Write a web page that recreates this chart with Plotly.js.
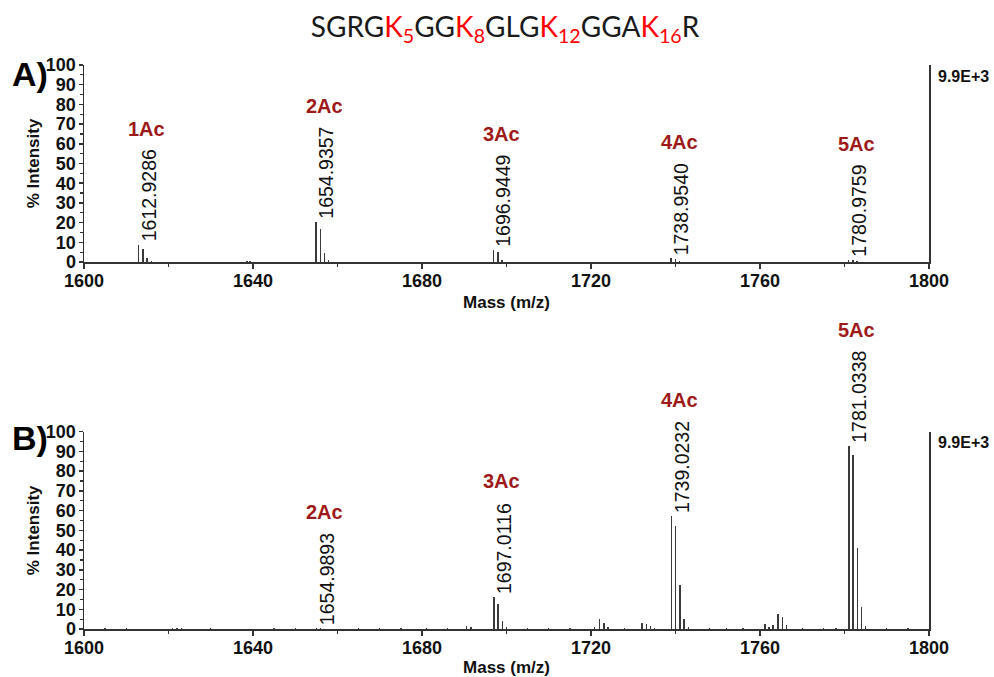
<!DOCTYPE html>
<html>
<head>
<meta charset="utf-8">
<script src="https://cdn.plot.ly/plotly-3.0.1.min.js"></script>
<style>html,body{margin:0;padding:0;background:#fff;}#chart{width:994px;height:677px;}</style>
</head>
<body>
<div id="chart"></div>
<script>
// ---- Panel A data (m/z, % intensity) ----
const A_mz  = [1612.93, 1613.93, 1614.93, 1615.93, 1638.6, 1639.3,
               1654.94, 1655.94, 1656.94, 1657.94,
               1696.94, 1697.95, 1698.95,
               1738.95, 1739.95, 1740.96,
               1780.98, 1781.98, 1782.98];
const A_int = [8.8, 6.6, 1.8, 0.3, 0.5, 0.4,
               20.5, 16.6, 4.7, 0.8,
               6.0, 5.3, 1.0,
               1.9, 1.5, 0.5,
               1.0, 0.8, 0.3];
const A_peak_mz   = [1612.9286, 1654.9357, 1696.9449, 1738.9540, 1780.9759];
const A_peak_int  = [8.8, 20.5, 6.0, 1.9, 1.0];
const A_peak_text = ["1612.9286", "1654.9357", "1696.9449", "1738.9540", "1780.9759"];
const A_ac_text   = ["1Ac", "2Ac", "3Ac", "4Ac", "5Ac"];

// ---- Panel B data ----
const B_mz  = [1605.0, 1610.0, 1621.0, 1622.0, 1623.0, 1630.0, 1645.0, 1650.0,
               1654.99, 1655.99, 1665.0, 1670.0, 1675.0, 1681.0, 1686.0,
               1690.6, 1691.6,
               1697.01, 1698.02, 1699.02, 1700.02,
               1705.0, 1710.0, 1715.0,
               1720.9, 1722.05, 1723.05, 1724.05, 1728.0,
               1732.1, 1733.1, 1734.1, 1735.1,
               1739.02, 1740.03, 1741.03, 1742.03, 1743.03,
               1748.0, 1752.0, 1756.0,
               1761.2, 1762.1, 1763.1, 1764.3, 1765.3, 1766.2,
               1770.0, 1775.0, 1778.0,
               1781.03, 1782.04, 1783.04, 1784.04, 1785.04,
               1790.0, 1795.0];
const B_int = [0.3, 0.3, 0.4, 0.4, 0.3, 0.3, 0.3, 0.3,
               0.6, 0.4, 0.3, 0.3, 0.3, 0.5, 0.3,
               1.3, 1.1,
               16.4, 12.8, 4.0, 1.0,
               0.3, 0.3, 0.3,
               0.8, 4.9, 3.2, 1.0, 0.3,
               3.2, 2.5, 1.5, 0.4,
               57.4, 52.4, 22.3, 5.2, 1.0,
               0.3, 0.3, 0.3,
               2.5, 1.2, 2.0, 7.6, 6.2, 2.0,
               0.3, 0.3, 0.4,
               92.8, 88.0, 41.2, 11.3, 1.5,
               0.3, 0.3];
const B_peak_mz   = [1654.9893, 1697.0116, 1739.0232, 1781.0338];
const B_peak_int  = [0.6, 16.4, 57.4, 92.8];
const B_peak_text = ["1654.9893", "1697.0116", "1739.0232", "1781.0338"];
const B_ac_text   = ["2Ac", "3Ac", "4Ac", "5Ac"];

const scaleLabel = "9.9E+3";
const xTickVals = [1600, 1640, 1680, 1720, 1760, 1800];
const yTickVals = [0, 10, 20, 30, 40, 50, 60, 70, 80, 90, 100];

const FONT = "Liberation Sans, Arial, Helvetica, sans-serif";
const AXC = "#333333";
const ACC = "#9e1a1a";

function barTrace(x, y, xa, ya) {
  return {type: "bar", x: x, y: y, xaxis: xa, yaxis: ya, width: 0.32,
          marker: {color: "#3a3a3a", line: {width: 0}}, hoverinfo: "x+y", showlegend: false};
}

function xAxis(domain, anchor) {
  return {domain: domain, anchor: anchor, range: [1600, 1800], tickvals: xTickVals,
          ticks: "outside", ticklen: 5, tickwidth: 1.5, tickcolor: AXC, ticklabelstandoff: -3,
          minor: {dtick: 20, tick0: 1600, ticks: "outside", ticklen: 3, tickwidth: 1.2, tickcolor: AXC},
          showline: true, linecolor: AXC, linewidth: 1.5, showgrid: false, zeroline: false,
          tickfont: {family: FONT, size: 18, weight: "bold", color: "#111"},
          title: {text: "Mass (m/z)", standoff: 6, font: {family: FONT, size: 17, weight: "bold", color: "#111"}}};
}
function yAxis(domain, anchor) {
  return {domain: domain, anchor: anchor, range: [0, 100], tickvals: yTickVals,
          ticks: "outside", ticklen: 4, tickwidth: 1.5, tickcolor: AXC, ticklabelstandoff: -1,
          minor: {dtick: 5, tick0: 0, ticks: "outside", ticklen: 2.5, tickwidth: 1.2, tickcolor: AXC},
          showline: true, mirror: true, linecolor: AXC, linewidth: 1.5, showgrid: false, zeroline: false,
          tickfont: {family: FONT, size: 18, weight: "bold", color: "#111"},
          title: {text: "% Intensity", standoff: 2, font: {family: FONT, size: 17, weight: "bold", color: "#111"}}};
}

const annotations = [];
function addLabels(mz, inten, texts, acs, xr, yr) {
  for (let i = 0; i < mz.length; i++) {
    annotations.push({x: mz[i], y: inten[i], xref: xr, yref: yr, text: texts[i], textangle: -90,
      showarrow: false, xanchor: "center", yanchor: "bottom", xshift: 10, yshift: 1,
      font: {family: FONT, size: 19.5, color: "#111"}});
    annotations.push({x: mz[i], y: inten[i], xref: xr, yref: yr, text: acs[i],
      showarrow: false, xanchor: "center", yanchor: "bottom", xshift: 8, yshift: 103,
      font: {family: FONT, size: 20, weight: "bold", color: ACC}});
  }
}
addLabels(A_peak_mz, A_peak_int, A_peak_text, A_ac_text, "x", "y");
addLabels(B_peak_mz, B_peak_int, B_peak_text, B_ac_text, "x2", "y2");

// scale labels at right
[["y domain", 1], ["y2 domain", 1]].forEach(function (r) {
  annotations.push({x: 936 / 994, y: r[1], xref: "paper", yref: r[0], text: scaleLabel,
    showarrow: false, xanchor: "left", yanchor: "middle", yshift: -11,
    font: {family: FONT, size: 16, weight: "bold", color: "#111"}});
});
// panel letters
annotations.push({x: 30 / 994, y: 1 - 74 / 677, xref: "paper", yref: "paper", text: "A)", showarrow: false,
  xanchor: "center", yanchor: "middle", font: {family: FONT, size: 34, weight: "bold", color: "#000"}});
annotations.push({x: 30 / 994, y: 1 - 438 / 677, xref: "paper", yref: "paper", text: "B)", showarrow: false,
  xanchor: "center", yanchor: "middle", font: {family: FONT, size: 34, weight: "bold", color: "#000"}});

const R = 'style="color:#ff0000"';
const titleText = 'SGRG<span ' + R + '>K<sub>5</sub></span>GG<span ' + R + '>K<sub>8</sub></span>GLG<span ' + R +
  '>K<sub>12</sub></span>GGA<span ' + R + '>K<sub>16</sub></span>R';

const xd = [84 / 994, 929 / 994];
const layout = {
  width: 994, height: 677,
  margin: {l: 0, r: 0, t: 0, b: 0},
  paper_bgcolor: "#fff", plot_bgcolor: "#fff",
  showlegend: false, bargap: 0,
  title: {text: titleText, x: 505 / 994, xanchor: "center", y: 1 - 27 / 677, yanchor: "middle",
          font: {family: "Lato, Noto Sans, sans-serif", size: 28, color: "#1a1a1a"}},
  xaxis: xAxis(xd, "y"),
  yaxis: yAxis([1 - 262 / 677, 1 - 65 / 677], "x"),
  xaxis2: xAxis(xd, "y2"),
  yaxis2: yAxis([1 - 629 / 677, 1 - 431.7 / 677], "x2"),
  annotations: annotations
};

Plotly.newPlot("chart", [barTrace(A_mz, A_int, "x", "y"), barTrace(B_mz, B_int, "x2", "y2")], layout,
  {displayModeBar: false, staticPlot: true});
</script>
</body>
</html>
